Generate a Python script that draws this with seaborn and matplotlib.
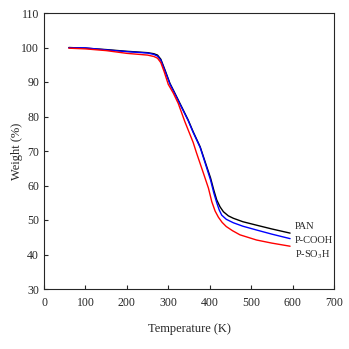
import matplotlib
matplotlib.use("Agg")
import matplotlib.pyplot as plt
import seaborn as sns
import pandas as pd

temp_pan = [60, 100, 150, 200, 250, 265, 274, 282, 292, 304, 312, 324, 348, 360, 377, 393, 402, 410, 417, 425, 433, 445, 457, 480, 513, 550, 594]
w_pan = [100.0, 99.8, 99.4, 98.9, 98.5, 98.2, 97.8, 96.6, 93.5, 89.6, 87.7, 84.8, 79.0, 75.6, 71.2, 65.4, 62.2, 58.6, 55.8, 53.8, 52.4, 51.2, 50.5, 49.5, 48.5, 47.4, 46.2]

temp_cooh = [60, 100, 150, 200, 250, 265, 274, 282, 292, 304, 312, 324, 348, 360, 377, 393, 402, 410, 417, 423, 429, 440, 457, 480, 513, 550, 594]
w_cooh = [99.9, 99.9, 99.3, 98.8, 98.4, 98.0, 97.5, 96.3, 93.2, 89.4, 87.5, 84.6, 78.8, 75.4, 71.0, 65.0, 61.6, 57.8, 55.0, 52.9, 51.4, 50.2, 49.2, 48.2, 47.1, 45.9, 44.6]

temp_so3h = [60, 100, 150, 200, 250, 265, 274, 282, 290, 300, 312, 324, 340, 360, 368, 385, 397, 405, 413, 421, 430, 440, 455, 473, 513, 550, 594]
w_so3h = [99.8, 99.6, 99.1, 98.3, 97.8, 97.4, 96.9, 95.6, 93.0, 89.3, 86.8, 83.8, 78.5, 72.5, 69.5, 63.5, 59.2, 55.3, 52.6, 50.8, 49.3, 48.1, 46.9, 45.7, 44.2, 43.3, 42.4]

series_names = ["PAN", "P-COOH", "P-SO$_3$H"]
colors = ["#000000", "#0000ff", "#ff0000"]
label_y = [48.0, 44.0, 39.8]

frames = []
for name, t, w in zip(series_names, [temp_pan, temp_cooh, temp_so3h], [w_pan, w_cooh, w_so3h]):
    frames.append(pd.DataFrame({"T": t, "W": w, "s": name}))
df = pd.concat(frames)

sns.set_style("ticks")
plt.rcParams["font.family"] = ["Liberation Serif", "DejaVu Serif"]
plt.rcParams["mathtext.fontset"] = "stix"

fig = plt.figure(figsize=(3.49, 3.49), dpi=100)
ax = fig.add_axes([44/349, 1 - 289/349, 290/349, 276/349])
sns.lineplot(data=df, x="T", y="W", hue="s", palette=colors, hue_order=series_names,
             legend=False, ax=ax, linewidth=1.0, sort=True)
for name, y in zip(series_names, label_y):
    ax.text(605, y, name, fontsize=7.5, va="center", ha="left")

ax.set_xlim(0, 700)
ax.set_ylim(30, 110)
ax.set_xticks(range(0, 701, 100))
ax.set_yticks(range(30, 111, 10))
ax.tick_params(direction="in", labelsize=8.5, length=3, width=0.8)
ax.tick_params(axis="x", pad=6)
ax.set_xlabel("Temperature (K)", fontsize=9, labelpad=10)
ax.set_ylabel("Weight (%)", fontsize=9, labelpad=-1)
for sp in ax.spines.values():
    sp.set_visible(True)
    sp.set_linewidth(0.8)

fig.savefig("out.png", dpi=100)
